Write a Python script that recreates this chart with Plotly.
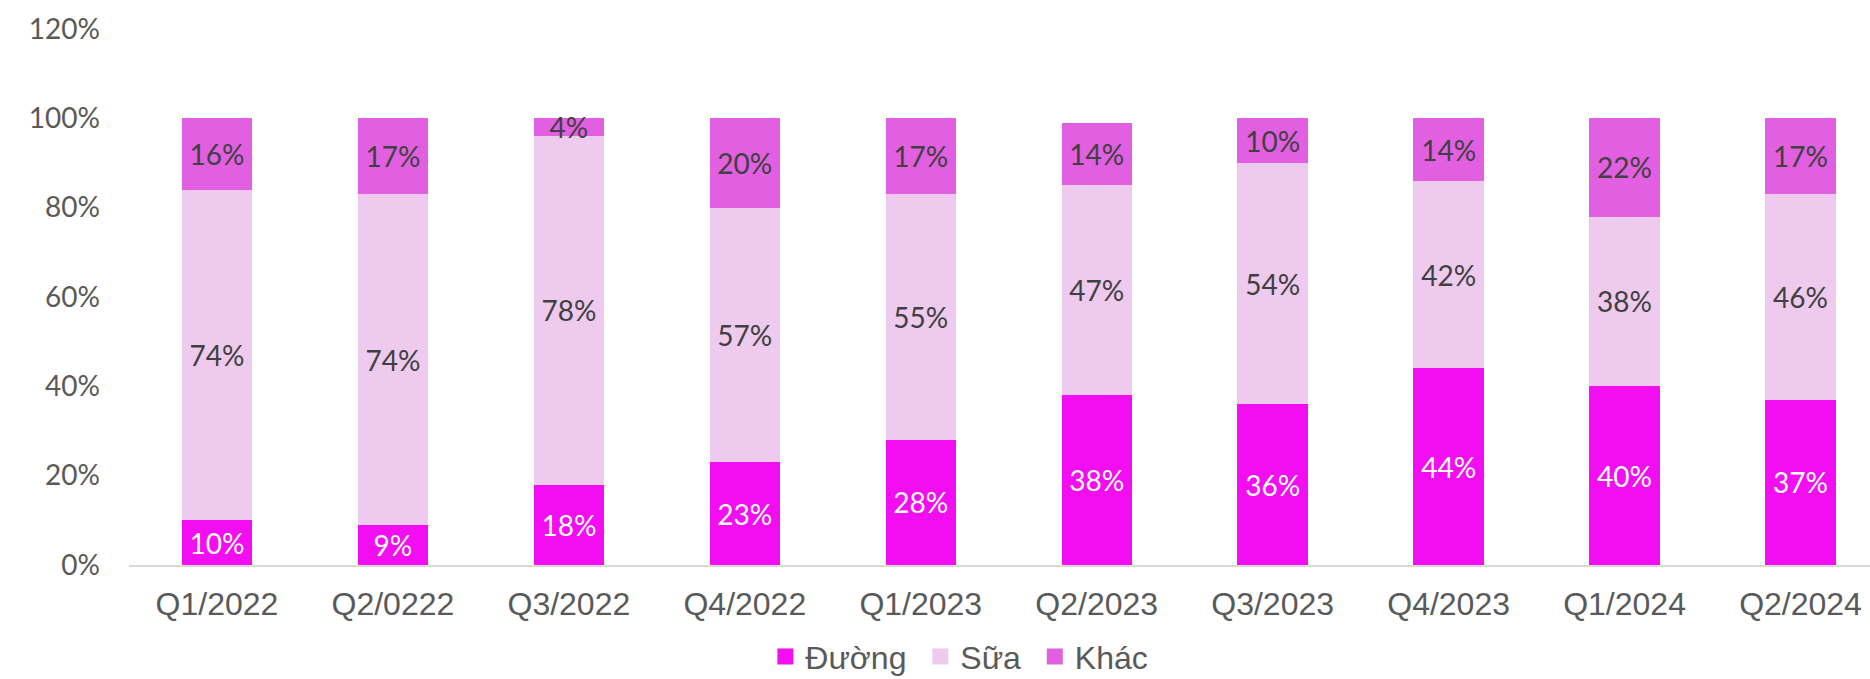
import plotly.graph_objects as go

categories = ["Q1/2022", "Q2/0222", "Q3/2022", "Q4/2022", "Q1/2023",
              "Q2/2023", "Q3/2023", "Q4/2023", "Q1/2024", "Q2/2024"]
duong = [10, 9, 18, 23, 28, 38, 36, 44, 40, 37]
sua = [74, 74, 78, 57, 55, 47, 54, 42, 38, 46]
khac = [16, 17, 4, 20, 17, 14, 10, 14, 22, 17]
names = ["Đường", "Sữa", "Khác"]

series = [
    (names[0], duong, "#F20EF0", "white"),
    (names[1], sua, "#EECAEE", "#404040"),
    (names[2], khac, "#E15FE0", "#404040"),
]

CAL = "Lato, Carlito, Calibri, sans-serif"
ARI = "Liberation Sans, Arial, sans-serif"

fig = go.Figure()
for name, vals, col, tcol in series:
    fig.add_trace(go.Bar(
        x=categories, y=[v / 100 for v in vals], name=name,
        marker=dict(color=col, line=dict(width=0)),
        text=[f"{v}%" for v in vals], textposition="inside",
        insidetextanchor="middle", textangle=0,
        insidetextfont=dict(family=CAL, size=28, color=tcol),
        showlegend=False, hoverinfo="skip",
    ))
for i, (name, vals, col, tcol) in enumerate(series):
    pad = "\u00a0" if i < len(series) - 1 else ""
    fig.add_trace(go.Scatter(
        x=[None], y=[None], mode="markers", name=name + pad,
        marker=dict(symbol="square", size=18, color=col),
        showlegend=True,
    ))

fig.update_layout(
    barmode="stack", bargap=0.6,
    width=1870, height=679,
    margin=dict(l=128.5, r=0, t=29, b=114.3, autoexpand=False),
    plot_bgcolor="white", paper_bgcolor="white",
    uniformtext=dict(minsize=28, mode="show"),
    legend=dict(orientation="h", traceorder="normal",
                x=0.3655, xanchor="left", y=-0.171, yanchor="middle",
                font=dict(family=ARI, size=32, color="#595959"),
                itemsizing="trace", bgcolor="rgba(0,0,0,0)"),
)
fig.update_xaxes(range=[-0.5, 9.395], showgrid=False, showline=True,
                 linecolor="#D9D9D9", linewidth=1.5, ticks="",
                 tickfont=dict(family=ARI, size=32, color="#595959"),
                 ticklabelstandoff=10)
fig.update_yaxes(range=[0, 1.2], dtick=0.2, tickformat=".0%", showgrid=False,
                 zeroline=False, showline=False, ticks="",
                 tickfont=dict(family=CAL, size=28, color="#595959"),
                 ticklabelstandoff=28)

fig.write_html("out.html")
